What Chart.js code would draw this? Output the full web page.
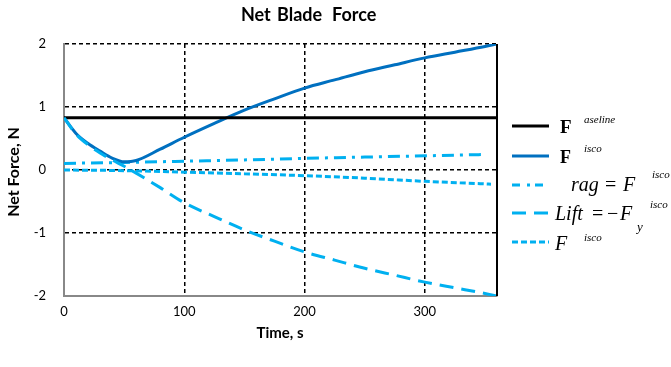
<!DOCTYPE html>
<html>
<head>
<meta charset="utf-8">
<script src="https://cdn.jsdelivr.net/npm/chart.js@4/dist/chart.umd.min.js"></script>
<style>
  html, body { margin: 0; padding: 0; background: #fff; }
  #wrap { width: 671px; height: 367px; }
</style>
</head>
<body>
<div id="wrap"><canvas id="myChart" width="671" height="367"></canvas></div>
<script>
// Time samples (s)
const timeMain = [0, 10, 20, 30, 40, 50, 60, 80, 100, 125, 150, 175, 200, 225, 250, 275, 300, 325, 350, 360];
const baseline = timeMain.map(() => 0.83);
const totalForce = [0.83, 0.58, 0.42, 0.30, 0.19, 0.13, 0.15, 0.33, 0.52, 0.74, 0.95, 1.13, 1.30, 1.43, 1.56, 1.67, 1.78, 1.87, 1.96, 2.0];
const liftForce = [0.83, 0.57, 0.40, 0.27, 0.16, 0.06, -0.05, -0.28, -0.52, -0.74, -0.95, -1.13, -1.30, -1.43, -1.56, -1.67, -1.78, -1.87, -1.96, -2.0];

const timeDrag = [0, 50, 100, 150, 200, 250, 300, 348];
const dragForce = [0.105, 0.12, 0.14, 0.16, 0.185, 0.205, 0.225, 0.245];

const timeFz = [0, 50, 100, 150, 200, 250, 300, 355];
const fzForce = [0.0, -0.01, -0.035, -0.06, -0.09, -0.13, -0.18, -0.225];

const xTicks = [0, 100, 200, 300];
const yTicks = [-2, -1, 0, 1, 2];

const darkBlue = '#0070C0';
const lightBlue = '#00B0F0';

const pts = (xs, ys) => xs.map((x, i) => ({ x: x, y: ys[i] }));

const common = { pointRadius: 0, fill: false, borderWidth: 3, cubicInterpolationMode: 'monotone' };

const datasets = [
  Object.assign({ label: 'Baseline', data: pts(timeMain, baseline), borderColor: '#000', order: 1 }, common),
  Object.assign({ label: 'Total', data: pts(timeMain, totalForce), borderColor: darkBlue, order: 2 }, common),
  Object.assign({ label: 'Drag', data: pts(timeDrag, dragForce), borderColor: lightBlue, borderDash: [12, 6, 3, 6], order: 3 }, common),
  Object.assign({ label: 'Lift', data: pts(timeMain, liftForce), borderColor: lightBlue, borderDash: [14, 8], order: 0 }, common),
  Object.assign({ label: 'Fz', data: pts(timeFz, fzForce), borderColor: lightBlue, borderDash: [6, 3], order: 4 }, common)
];

// Title, axis titles, right border and the equation-style legend
const decorPlugin = {
  id: 'decor',
  afterDraw(chart) {
    const ctx = chart.ctx;
    const a = chart.chartArea;
    ctx.save();
    // right border
    ctx.strokeStyle = '#000';
    ctx.lineWidth = 2;
    ctx.beginPath();
    ctx.moveTo(a.right, a.top);
    ctx.lineTo(a.right, a.bottom);
    ctx.stroke();

    ctx.fillStyle = '#000';
    ctx.textBaseline = 'alphabetic';
    ctx.textAlign = 'left';
    ctx.font = 'bold 18px Lato';
    ctx.fillText('Net', 241, 21);
    ctx.fillText('Blade', 277, 21);
    ctx.fillText('Force', 332, 21);

    ctx.textAlign = 'center';
    ctx.textBaseline = 'middle';
    ctx.font = 'bold 15px Lato';
    ctx.fillText('Time, s', 280, 333);
    ctx.save();
    ctx.translate(14, 172);
    ctx.rotate(-Math.PI / 2);
    ctx.font = 'bold 16px Lato';
    ctx.fillText('Net Force, N', 0, 0);
    ctx.restore();

    // legend samples
    const items = [
      { y: 126, color: '#000', dash: [] },
      { y: 156, color: darkBlue, dash: [] },
      { y: 185, color: lightBlue, dash: [8, 7, 3, 5] },
      { y: 213, color: lightBlue, dash: [14, 8] },
      { y: 242, color: lightBlue, dash: [6, 3] }
    ];
    items.forEach(it => {
      ctx.strokeStyle = it.color;
      ctx.lineWidth = 3;
      ctx.setLineDash(it.dash);
      ctx.beginPath();
      ctx.moveTo(512, it.y);
      ctx.lineTo(549, it.y);
      ctx.stroke();
    });
    ctx.setLineDash([]);

    ctx.textAlign = 'left';
    ctx.textBaseline = 'alphabetic';
    const serif = '"Liberation Serif"';
    const put = (txt, x, y, font) => { ctx.font = font + ' ' + serif; ctx.fillText(txt, x, y); };
    // 1
    put('F', 560, 133, 'bold 19px');
    put('aseline', 584, 123, 'italic 11px');
    // 2
    put('F', 560, 163, 'bold 18px');
    put('isco', 584, 152, 'italic 11px');
    // 3
    put('rag', 571, 191, 'italic 20px');
    put('=', 605, 191, '20px');
    put('F', 623, 191, 'italic 20px');
    put('isco', 652, 178, 'italic 11px');
    // 4
    put('Lift', 555, 220, 'italic 20px');
    put('=', 592, 220, '20px');
    put('\u2212', 607, 220, '20px');
    put('F', 620, 220, 'italic 20px');
    put('y', 637, 231, 'italic 13px');
    put('isco', 650, 208, 'italic 11px');
    // 5
    put('F', 555, 250, 'italic 20px');
    put('isco', 584, 241, 'italic 11px');
    ctx.restore();
  }
};

const ctx = document.getElementById('myChart').getContext('2d');
const myChart = new Chart(ctx, {
  type: 'line',
  data: { datasets },
  options: {
    responsive: false,
    animation: false,
    layout: { padding: { left: 0, top: 44, right: 174, bottom: 0 } },
    plugins: { legend: { display: false }, title: { display: false }, tooltip: { enabled: false } },
    scales: {
      x: {
        type: 'linear',
        min: 0,
        max: 360,
        afterBuildTicks: s => { s.ticks = xTicks.map(v => ({ value: v })); },
        afterFit: s => { s.height = 71; },
        ticks: { color: '#000', font: { family: 'Lato', size: 13 }, padding: 8, maxRotation: 0 },
        grid: {
          drawTicks: false,
          lineWidth: 1.5,
          color: c => (c.tick && c.tick.value === 0 ? 'rgba(0,0,0,0)' : '#000')
        },
        border: { color: '#888', width: 2, dash: [4, 3] }
      },
      y: {
        min: -2,
        max: 2,
        afterBuildTicks: s => { s.ticks = yTicks.map(v => ({ value: v })); },
        afterFit: s => { s.width = 64; },
        ticks: { color: '#000', font: { family: 'Lato', size: 13 }, padding: 18 },
        grid: {
          drawTicks: false,
          lineWidth: 1.5,
          color: c => (c.tick && c.tick.value === -2 ? 'rgba(0,0,0,0)' : '#000')
        },
        border: { color: '#888', width: 2, dash: [4, 3] }
      }
    }
  },
  plugins: [decorPlugin]
});
</script>
</body>
</html>
